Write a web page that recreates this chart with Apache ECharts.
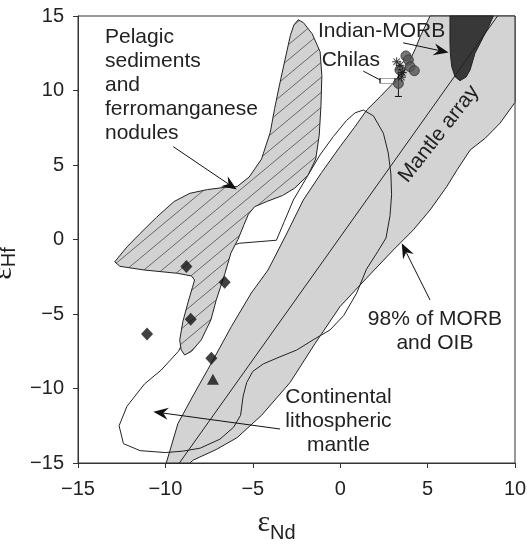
<!DOCTYPE html>
<html>
<head>
<meta charset="utf-8">
<script src="https://cdn.jsdelivr.net/npm/echarts@6/dist/echarts.min.js"></script>
<style>
  html, body { margin: 0; padding: 0; background: #fff; }
  #chart { width: 527px; height: 544px; }
</style>
</head>
<body>
<div id="chart"></div>
<script>
// Axis ranges (εNd on x, εHf on y)
const xRange = [-15, 10];
const yRange = [-15, 15];
const tickStep = 5;

// 98% of MORB and OIB field (outline, [εNd, εHf])
const morbOibField = [
  [-9.95, -15], [-9.28, -12.34], [-8.33, -10.3], [-7.37, -8.3], [-6.23, -5.85],
  [-5.09, -3.6], [-4.13, -2.05], [-3.1, 0.3], [-2.11, 2.65], [-1.06, 4.5],
  [-0.01, 6.23], [0.8, 7.5], [1.52, 8.69], [2.3, 9.6], [3.04, 10.5], [3.6, 11.3],
  [4.0, 12.05], [4.3, 12.8], [4.57, 13.6], [5.14, 15],
  [10, 15], [10, 9.2], [9.14, 7.8], [8.3, 6.8], [7.43, 6.0], [6.7, 4.7],
  [6.09, 3.54], [5.14, 1.98], [4.18, 0.64], [3.04, -0.7], [1.5, -2.6],
  [-0.01, -4.5], [-1.45, -7.0], [-2.87, -9.6], [-4.5, -11.8], [-5.9, -13.3],
  [-7.1, -14.1], [-8.4, -14.8], [-8.6, -15]
];

// Mantle array (end points)
const mantleArray = [[-9.2, -15], [9.0, 15]];

// Indian-MORB field
const indianMorbField = [
  [6.28, 15], [8.76, 15], [8.5, 14.3], [8.19, 13.6], [7.71, 12.5], [7.43, 11.38],
  [7.2, 10.9], [6.85, 10.66], [6.57, 10.93], [6.38, 11.6], [6.3, 12.5], [6.28, 13.2]
];

// Continental lithospheric mantle outline
const clmOutline = [
  [-5.75, -0.25], [-3.65, -0.05], [-3.2, 1.2], [-2.68, 2.65], [-1.9, 4.2],
  [-1.16, 5.67], [-0.4, 6.9], [0.37, 8.0], [0.85, 8.5], [1.32, 8.69], [1.9, 8.3],
  [2.47, 7.13], [2.75, 5.8], [2.9, 4.4], [2.94, 3.0], [2.85, 1.6], [2.62, 0.1],
  [2.15, -0.8], [1.5, -2.0], [0.94, -3.6], [0.2, -5.1], [-0.58, -6.07],
  [-1.5, -6.7], [-2.49, -7.42], [-3.5, -7.9], [-4.4, -8.35], [-5.0, -8.85],
  [-5.35, -9.6], [-5.55, -10.5], [-5.7, -11.8], [-6.1, -12.6], [-6.88, -13.4],
  [-8.0, -14.0], [-8.98, -14.2], [-10.0, -14.3], [-11.45, -14.17], [-12.4, -13.7],
  [-12.65, -12.5], [-12.2, -11.2], [-11.2, -9.7], [-10.24, -8.76], [-9.25, -7.5],
  [-8.6, -6.0], [-7.8, -4.0], [-7.0, -1.8], [-6.5, -0.5]
];

// Pelagic sediments and ferromanganese nodules field
const pelagicField = [
  [-12.9, -1.5], [-12.2, -0.5], [-11.45, 0.4], [-10.5, 1.5], [-9.5, 2.55],
  [-8.6, 3.1], [-7.6, 3.35], [-6.6, 3.5], [-5.9, 3.55], [-5.2, 4.2], [-4.5, 5.4],
  [-4.0, 7.2], [-3.75, 8.8], [-3.45, 10.5], [-3.15, 12.1], [-2.85, 13.7],
  [-2.65, 14.4], [-2.4, 14.75], [-2.1, 14.55], [-1.6, 13.8], [-1.15, 12.6],
  [-1.05, 11.0], [-1.1, 9.0], [-1.2, 7.0], [-1.4, 5.4], [-1.85, 4.3],
  [-2.6, 3.45], [-3.3, 2.95], [-4.2, 2.55], [-4.9, 2.2], [-5.25, 1.7],
  [-5.5, 1.0], [-5.85, 0.0], [-6.25, -0.9], [-6.6, -2.3], [-6.85, -3.2],
  [-7.1, -4.1], [-7.4, -5.4], [-7.95, -6.74], [-8.5, -7.5], [-8.9, -7.75],
  [-9.1, -7.4], [-9.18, -6.74], [-9.0, -5.5], [-8.7, -4.2], [-8.45, -3.2],
  [-8.33, -2.72], [-8.5, -2.45], [-9.3, -2.27], [-11.2, -2.05], [-12.6, -1.8]
];

// Chilas samples
const chilasCircles = [[3.76, 12.32], [3.9, 12.05], [4.0, 11.6], [4.24, 11.33], [3.42, 11.38], [3.33, 10.48]];
const chilasStars = [[3.23, 11.93], [3.42, 11.7], [3.55, 11.2], [3.5, 10.9]];
const chilasBox = [[2.71, 10.66]];
const chilasErrorBar = [[3.33, 9.6, 11.4]]; // x, low, high

// Other samples
const diamondSamples = [[-8.8, -1.82], [-6.61, -2.87], [-8.55, -5.36], [-11.05, -6.34], [-7.37, -7.97]];
const triangleSamples = [[-7.28, -9.38]];

// Annotation arrows and leader
const arrows = [
  { from: [-9.55, 6.23], to: [-5.92, 3.35], head: true },
  { from: [3.6, 13.2], to: [6.2, 12.55], head: true },
  { from: [1.32, 11.3], to: [2.3, 10.7], head: false },
  { from: [5.14, -4.06], to: [3.52, -0.26], head: true },
  { from: [-3.44, -12.72], to: [-10.69, -11.56], head: true }
];

// Labels: [text, εNd, εHf, align, verticalAlign, rotation (deg)]
const notes = [
  ['Pelagic\nsediments\nand\nferromanganese\nnodules', -13.455, 14.40, 'left', 'top', 0],
  ['Indian-MORB', 2.37, 13.95, 'center', 'middle', 0],
  ['Chilas', 0.61, 12.0, 'center', 'middle', 0],
  ['Mantle array', 5.65, 7.08, 'center', 'middle', 52],
  ['98% of MORB\nand OIB', 5.42, -4.53, 'center', 'top', 0],
  ['Continental\nlithospheric\nmantle', -0.1, -9.81, 'center', 'top', 0]
];

const FONT = '"Liberation Sans", Arial, sans-serif';
const INK = '#222';

function hatchPattern() {
  const c = document.createElement('canvas');
  c.width = 18; c.height = 15;
  const g = c.getContext('2d');
  g.fillStyle = '#d2d2d2';
  g.fillRect(0, 0, 18, 15);
  g.strokeStyle = '#666';
  g.lineWidth = 1;
  g.beginPath();
  for (const dx of [-18, 0, 18]) { g.moveTo(dx, 15); g.lineTo(dx + 18, 0); }
  g.stroke();
  return c;
}

function polygonSeries(points, style, z) {
  return {
    type: 'custom', z: z, clip: false, silent: true,
    data: [points[0]],
    renderItem: (params, api) => ({
      type: 'polygon',
      shape: { points: points.map(p => api.coord(p)) },
      style: style
    })
  };
}

const minus = v => (v < 0 ? '\u2212' + Math.abs(v) : String(v));

const chart = echarts.init(document.getElementById('chart'));
chart.setOption({
  animation: false,
  grid: {
    left: 78, right: 12, top: 16, bottom: 81,
    outerBoundsMode: 'none', containLabel: false,
    show: true, borderColor: '#333', borderWidth: 1
  },
  xAxis: {
    type: 'value', min: xRange[0], max: xRange[1], interval: tickStep,
    axisLine: { onZero: false, lineStyle: { color: '#333', width: 1 } },
    axisTick: { show: true, inside: false, length: 5, lineStyle: { color: '#333' } },
    splitLine: { show: false },
    axisLabel: { fontSize: 20, color: INK, fontFamily: FONT, margin: 16, formatter: minus },
    name: '{e|\u03b5}{s|Nd}',
    nameLocation: 'middle', nameGap: 40,
    nameTextStyle: {
      padding: [0, 40, 0, 0],
      rich: {
        e: { fontSize: 30, fontFamily: '"Liberation Serif", serif', color: INK },
        s: { fontSize: 20, fontFamily: FONT, color: INK, padding: [20, 0, 0, 0] }
      }
    }
  },
  yAxis: {
    type: 'value', min: yRange[0], max: yRange[1], interval: tickStep,
    axisLine: { onZero: false, lineStyle: { color: '#333', width: 1 } },
    axisTick: { show: true, inside: false, length: 5, lineStyle: { color: '#333' } },
    splitLine: { show: false },
    axisLabel: { fontSize: 20, color: INK, fontFamily: FONT, margin: 14, formatter: minus },
    name: '{e|\u03b5}{s|Hf}',
    nameLocation: 'middle', nameGap: 36,
    nameTextStyle: {
      padding: [0, 48, 0, 0],
      rich: {
        e: { fontSize: 30, fontFamily: '"Liberation Serif", serif', color: INK },
        s: { fontSize: 20, fontFamily: FONT, color: INK, padding: [12, 0, 0, 0] }
      }
    }
  },
  series: [
    polygonSeries(morbOibField, { fill: '#d3d3d3', stroke: '#222', lineWidth: 1 }, 1),
    polygonSeries(indianMorbField, { fill: '#383838', stroke: '#222', lineWidth: 1 }, 2),
    {
      type: 'line', z: 3, silent: true, data: mantleArray, symbol: 'none',
      lineStyle: { color: '#222', width: 1 }
    },
    {
      type: 'custom', z: 3, clip: false, silent: true, data: [clmOutline[0]],
      renderItem: (params, api) => ({
        type: 'polygon',
        shape: { points: clmOutline.map(p => api.coord(p)) },
        style: { fill: 'none', stroke: '#222', lineWidth: 1 }
      })
    },
    polygonSeries(pelagicField, { fill: { image: hatchPattern(), repeat: 'repeat' }, stroke: '#222', lineWidth: 1 }, 4),
    {
      type: 'custom', z: 5, clip: false, silent: true,
      data: arrows.map(a => a.to),
      renderItem: (params, api) => {
        const a = arrows[params.dataIndex];
        const p0 = api.coord(a.from), p1 = api.coord(a.to);
        const dx = p1[0] - p0[0], dy = p1[1] - p0[1];
        const len = Math.hypot(dx, dy), ux = dx / len, uy = dy / len;
        const nx = -uy, ny = ux;
        const L = 15, W = 6, N = 5;
        const children = [{
          type: 'line',
          shape: { x1: p0[0], y1: p0[1], x2: p1[0] - ux * (a.head ? L - N : 0), y2: p1[1] - uy * (a.head ? L - N : 0) },
          style: { stroke: '#111', lineWidth: 1 }
        }];
        if (a.head) {
          const bx = p1[0] - ux * L, by = p1[1] - uy * L;
          children.push({
            type: 'polygon',
            shape: { points: [
              [p1[0], p1[1]],
              [bx + nx * W, by + ny * W],
              [p1[0] - ux * (L - N), p1[1] - uy * (L - N)],
              [bx - nx * W, by - ny * W]
            ] },
            style: { fill: '#111' }
          });
        }
        return { type: 'group', children: children };
      }
    },
    {
      type: 'custom', z: 6, clip: false, silent: true,
      data: chilasErrorBar,
      renderItem: (params, api) => {
        const x = api.value(0);
        const lo = api.coord([x, api.value(1)]), hi = api.coord([x, api.value(2)]);
        const c = 3.5;
        return { type: 'group', children: [
          { type: 'line', shape: { x1: lo[0], y1: lo[1], x2: hi[0], y2: hi[1] }, style: { stroke: '#111', lineWidth: 1 } },
          { type: 'line', shape: { x1: lo[0] - c, y1: lo[1], x2: lo[0] + c, y2: lo[1] }, style: { stroke: '#111', lineWidth: 1 } },
          { type: 'line', shape: { x1: hi[0] - c, y1: hi[1], x2: hi[0] + c, y2: hi[1] }, style: { stroke: '#111', lineWidth: 1 } }
        ] };
      }
    },
    {
      type: 'scatter', z: 7, silent: true, data: chilasBox, symbol: 'rect', symbolSize: [15, 5],
      itemStyle: { color: '#fff', borderColor: '#222', borderWidth: 1 }
    },
    {
      type: 'scatter', z: 7, silent: true, data: chilasCircles, symbol: 'circle', symbolSize: 10,
      itemStyle: { color: '#555', borderColor: '#333', borderWidth: 1 }
    },
    {
      type: 'scatter', z: 8, silent: true, data: chilasStars, symbolSize: 9,
      symbol: 'path://M4.4,0h1.2v10h-1.2z M0,4.4h10v1.2h-10z M1,1.8l0.8,-0.8l7.2,7.2l-0.8,0.8z M8.2,1l0.8,0.8l-7.2,7.2l-0.8,-0.8z',
      itemStyle: { color: '#111' }
    },
    {
      type: 'scatter', z: 7, silent: true, data: diamondSamples, symbol: 'diamond', symbolSize: [12, 13],
      itemStyle: { color: '#111' }
    },
    {
      type: 'scatter', z: 7, silent: true, data: triangleSamples, symbol: 'triangle', symbolSize: [12, 11],
      itemStyle: { color: '#111' }
    },
    {
      type: 'custom', z: 9, clip: false, silent: true,
      data: notes.map(n => [n[1], n[2]]),
      renderItem: (params, api) => {
        const n = notes[params.dataIndex];
        const p = api.coord([n[1], n[2]]);
        return {
          type: 'text', x: p[0], y: p[1], rotation: n[5] * Math.PI / 180,
          style: {
            text: n[0], fontSize: 21, fontFamily: FONT, fill: INK,
            align: n[3], verticalAlign: n[4], lineHeight: 24
          }
        };
      }
    }
  ]
});
</script>
</body>
</html>
